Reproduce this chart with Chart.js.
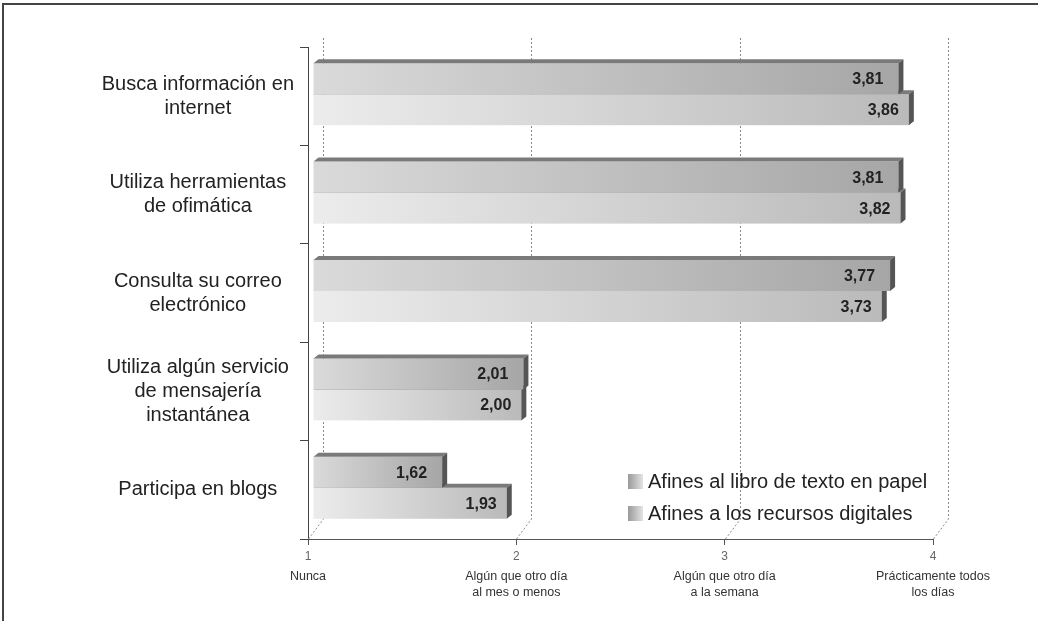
<!DOCTYPE html>
<html>
<head>
<meta charset="utf-8">
<script src="https://cdn.jsdelivr.net/npm/chart.js@4/dist/chart.umd.min.js"></script>
<style>
    html, body { margin: 0; padding: 0; background: #fff; }
    #wrap { width: 1038px; height: 621px; }
</style>
</head>
<body>
<div id="wrap"><canvas id="myChart" width="1038" height="621"></canvas></div>
<script>
// Chart data
const categories = [
    ['Busca información en', 'internet'],
    ['Utiliza herramientas', 'de ofimática'],
    ['Consulta su correo', 'electrónico'],
    ['Utiliza algún servicio', 'de mensajería', 'instantánea'],
    ['Participa en blogs']
];
const seriesNames = ['Afines al libro de texto en papel', 'Afines a los recursos digitales'];
const papelValues = [3.81, 3.81, 3.77, 2.01, 1.62];
const digitalValues = [3.86, 3.82, 3.73, 2.00, 1.93];
const tickValues = [1, 2, 3, 4];
const tickDescriptions = [
    ['Nunca'],
    ['Algún que otro día', 'al mes o menos'],
    ['Algún que otro día', 'a la semana'],
    ['Prácticamente todos', 'los días']
];

const FONT = 'Liberation Sans, Arial, sans-serif';

// 3D look of the bars
const DX = 5;    // front face shift to the right
const DY = -2;   // front face shift up
const DEPTH_X = 5;
const DEPTH_Y = 4;

const faceColors = [
    ['#dadada', '#a6a6a6'],  // papel
    ['#ececec', '#bababa']   // digital
];

const fmt = (v) => v.toFixed(2).replace('.', ',');

const drawFrame = {
    id: 'frame',
    beforeDraw(chart) {
        const ctx = chart.ctx;
        ctx.save();
        ctx.strokeStyle = '#444';
        ctx.lineWidth = 2;
        ctx.beginPath();
        ctx.moveTo(3, chart.height);
        ctx.lineTo(3, 4);
        ctx.lineTo(chart.width, 4);
        ctx.stroke();
        ctx.restore();
    }
};

// Dotted back wall grid lines with the floor diagonal
const backGrid = {
    id: 'backGrid',
    beforeDatasetsDraw(chart) {
        const ctx = chart.ctx;
        const x = chart.scales.x;
        const area = chart.chartArea;
        ctx.save();
        ctx.strokeStyle = '#8a8a8a';
        ctx.lineWidth = 1;
        ctx.setLineDash([2, 2]);
        tickValues.forEach(v => {
            const px = Math.round(x.getPixelForValue(v)) + 0.5;
            ctx.beginPath();
            ctx.moveTo(px, area.bottom);
            ctx.lineTo(px + 15, area.bottom - 20);
            ctx.lineTo(px + 15, area.top - 9);
            ctx.stroke();
        });
        ctx.restore();
    }
};

const bars3d = {
    id: 'bars3d',
    afterDatasetsDraw(chart) {
        const ctx = chart.ctx;
        const xScale = chart.scales.x;
        ctx.save();
        // bottom bar first so the upper one covers its top face
        for (let d = chart.data.datasets.length - 1; d >= 0; d--) {
            const meta = chart.getDatasetMeta(d);
            meta.data.forEach((bar, i) => {
                const x0 = Math.max(bar.base, xScale.left) + DX;
                const x1 = bar.x + DX;
                const y0 = bar.y - bar.height / 2 + DY;
                const y1 = bar.y + bar.height / 2 + DY;

                // front face
                const grad = ctx.createLinearGradient(x0, 0, x1, 0);
                grad.addColorStop(0, faceColors[d][0]);
                grad.addColorStop(1, faceColors[d][1]);
                ctx.fillStyle = grad;
                ctx.fillRect(x0, y0, x1 - x0, y1 - y0);

                // top face
                ctx.fillStyle = '#7a7a7a';
                ctx.beginPath();
                ctx.moveTo(x0, y0);
                ctx.lineTo(x0 + DEPTH_X, y0 - DEPTH_Y);
                ctx.lineTo(x1 + DEPTH_X, y0 - DEPTH_Y);
                ctx.lineTo(x1, y0);
                ctx.closePath();
                ctx.fill();

                // side face
                ctx.fillStyle = '#555';
                ctx.beginPath();
                ctx.moveTo(x1, y0);
                ctx.lineTo(x1 + DEPTH_X, y0 - DEPTH_Y);
                ctx.lineTo(x1 + DEPTH_X, y1 - DEPTH_Y);
                ctx.lineTo(x1, y1);
                ctx.closePath();
                ctx.fill();

                // value label
                const value = chart.data.datasets[d].data[i];
                ctx.fillStyle = '#222';
                ctx.font = 'bold 16px ' + FONT;
                ctx.textAlign = 'right';
                ctx.textBaseline = 'middle';
                ctx.fillText(fmt(value), x1 - (d === 0 ? 15 : 10), (y0 + y1) / 2 + 1);
            });
        }
        ctx.restore();
    }
};

// Legend inside the plot and the axis descriptions
const extras = {
    id: 'extras',
    afterDraw(chart) {
        const ctx = chart.ctx;
        const area = chart.chartArea;
        const x = chart.scales.x;
        ctx.save();

        const lx = area.right - 305;
        const ly = area.bottom - 58;
        seriesNames.forEach((name, i) => {
            const y = ly + i * 32;
            const g = ctx.createLinearGradient(lx, 0, lx + 15, 0);
            g.addColorStop(0, '#999');
            g.addColorStop(1, '#e4e4e4');
            ctx.fillStyle = g;
            ctx.fillRect(lx, y - 7, 15, 15);
            ctx.fillStyle = '#222';
            ctx.font = '20px ' + FONT;
            ctx.textAlign = 'left';
            ctx.textBaseline = 'middle';
            ctx.fillText(name, lx + 20, y + 1);
        });

        ctx.fillStyle = '#333';
        ctx.font = '12.5px ' + FONT;
        ctx.textAlign = 'center';
        ctx.textBaseline = 'middle';
        tickValues.forEach((v, i) => {
            const px = x.getPixelForValue(v);
            tickDescriptions[i].forEach((line, j) => {
                ctx.fillText(line, px, area.bottom + 38 + j * 16);
            });
        });
        ctx.restore();
    }
};

const ctx = document.getElementById('myChart').getContext('2d');

let myChart = new Chart(ctx, {
    type: 'bar',
    data: {
        labels: categories,
        datasets: [
            {
                label: seriesNames[0],
                data: papelValues,
                base: 1,
                backgroundColor: 'rgba(0,0,0,0)',
                borderWidth: 0
            },
            {
                label: seriesNames[1],
                data: digitalValues,
                base: 1,
                backgroundColor: 'rgba(0,0,0,0)',
                borderWidth: 0
            }
        ]
    },
    options: {
        indexAxis: 'y',
        responsive: false,
        animation: false,
        categoryPercentage: 0.63,
        barPercentage: 1.0,
        layout: {
            padding: { left: 10, top: 47, right: 105, bottom: 0 }
        },
        plugins: {
            legend: { display: false },
            tooltip: { enabled: false }
        },
        scales: {
            x: {
                min: 1,
                max: 4,
                afterFit: (scale) => { scale.height = 82; },
                border: { color: '#555', width: 1 },
                grid: { drawOnChartArea: false, drawTicks: true, tickLength: 6, color: '#555' },
                ticks: {
                    stepSize: 1,
                    padding: 4,
                    color: '#666',
                    font: { family: FONT, size: 12 }
                }
            },
            y: {
                afterFit: (scale) => { scale.width = 298; },
                border: { color: '#444', width: 1 },
                grid: { drawOnChartArea: false, drawTicks: true, tickLength: 8, offset: true, color: '#444' },
                ticks: {
                    crossAlign: 'center',
                    padding: 6,
                    color: '#222',
                    font: { family: FONT, size: 20, lineHeight: 1.2 }
                }
            }
        }
    },
    plugins: [drawFrame, backGrid, bars3d, extras]
});
</script>
</body>
</html>
